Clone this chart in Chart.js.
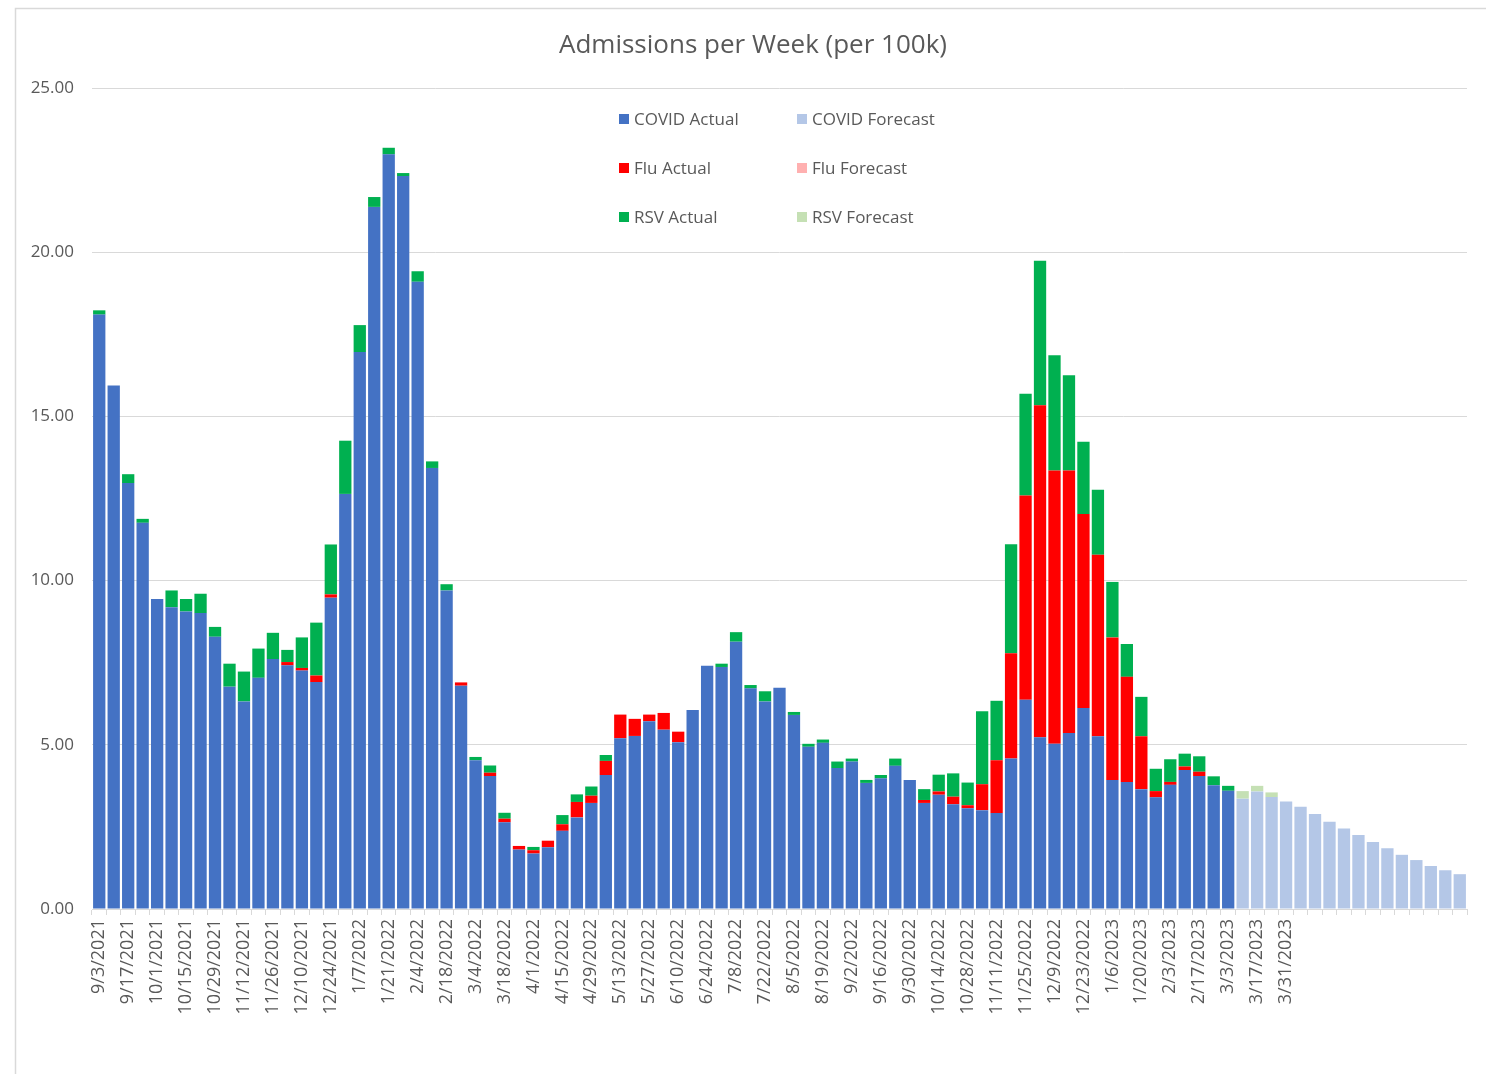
<!DOCTYPE html>
<html><head><meta charset="utf-8">
<script src="https://cdn.jsdelivr.net/npm/chart.js@4.4.0/dist/chart.umd.min.js"></script>
<style>html,body{margin:0;padding:0;background:#fff;} canvas{display:block;}</style>
</head><body>
<canvas id="c" width="1486" height="1074"></canvas>
<script>
const chartTitle = 'Admissions per Week (per 100k)';
const weeks = [
 '9/3/2021','9/10/2021','9/17/2021','9/24/2021','10/1/2021','10/8/2021','10/15/2021','10/22/2021','10/29/2021','11/5/2021',
 '11/12/2021','11/19/2021','11/26/2021','12/3/2021','12/10/2021','12/17/2021','12/24/2021','12/31/2021','1/7/2022','1/14/2022',
 '1/21/2022','1/28/2022','2/4/2022','2/11/2022','2/18/2022','2/25/2022','3/4/2022','3/11/2022','3/18/2022','3/25/2022',
 '4/1/2022','4/8/2022','4/15/2022','4/22/2022','4/29/2022','5/6/2022','5/13/2022','5/20/2022','5/27/2022','6/3/2022',
 '6/10/2022','6/17/2022','6/24/2022','7/1/2022','7/8/2022','7/15/2022','7/22/2022','7/29/2022','8/5/2022','8/12/2022',
 '8/19/2022','8/26/2022','9/2/2022','9/9/2022','9/16/2022','9/23/2022','9/30/2022','10/7/2022','10/14/2022','10/21/2022',
 '10/28/2022','11/4/2022','11/11/2022','11/18/2022','11/25/2022','12/2/2022','12/9/2022','12/16/2022','12/23/2022','12/30/2022',
 '1/6/2023','1/13/2023','1/20/2023','1/27/2023','2/3/2023','2/10/2023','2/17/2023','2/24/2023','3/3/2023','3/10/2023',
 '3/17/2023','3/24/2023','3/31/2023','','','','','','','',
 '','','','',''
];
const covidActual = [18.10,15.94,12.97,11.76,9.44,9.19,9.06,9.01,8.29,6.77,
 6.32,7.04,7.61,7.42,7.26,6.91,9.48,12.64,16.96,21.38,
 22.98,22.32,19.10,13.43,9.70,6.80,4.53,4.05,2.64,1.81,
 1.69,1.88,2.38,2.79,3.23,4.08,5.20,5.27,5.72,5.46,
 5.08,6.06,7.41,7.37,8.14,6.72,6.32,6.74,5.91,4.94,
 5.06,4.29,4.49,3.84,3.98,4.36,3.93,3.23,3.48,3.19,
 3.07,3.01,2.92,4.58,6.37,5.23,5.03,5.36,6.12,5.26,
 3.93,3.87,3.65,3.40,3.78,4.23,4.05,3.77,3.60];
const fluActual = [0,0,0,0,0,0,0,0,0,0,
 0,0,0,0.10,0.08,0.20,0.10,0,0,0,
 0,0,0,0,0,0.10,0,0.10,0.11,0.11,
 0.10,0.20,0.20,0.47,0.22,0.43,0.72,0.52,0.20,0.51,
 0.32,0,0,0,0,0,0,0,0,0,
 0,0,0,0,0,0,0,0.09,0.10,0.23,
 0.09,0.79,1.61,3.21,6.22,10.11,8.32,7.99,5.91,5.53,
 4.34,3.20,1.61,0.19,0.09,0.11,0.13,0,0];
const rsvActual = [0.13,0,0.27,0.12,0,0.51,0.38,0.59,0.30,0.70,
 0.91,0.89,0.80,0.37,0.93,1.61,1.52,1.62,0.82,0.30,
 0.20,0.09,0.32,0.20,0.19,0,0.10,0.22,0.18,0,
 0.10,0,0.28,0.23,0.28,0.18,0,0,0,0,
 0,0,0,0.10,0.29,0.10,0.31,0,0.09,0.09,
 0.10,0.20,0.09,0.09,0.10,0.22,0,0.33,0.51,0.71,
 0.69,2.22,1.81,3.32,3.10,4.40,3.51,2.90,2.20,1.98,
 1.69,1.00,1.20,0.68,0.69,0.39,0.47,0.27,0.15];
const covidForecast = [3.36,3.58,3.41,3.27,3.11,2.89,2.66,2.45,2.25,2.04,1.85,1.65,1.49,1.31,1.18,1.06];
const fluForecast = [0,0,0,0,0,0,0,0,0,0,0,0,0,0,0,0];
const rsvForecast = [0.23,0.17,0.14,0,0,0,0,0,0,0,0,0,0,0,0,0];
const yMin = 0, yMax = 25, yStep = 5;

const nA = covidActual.length, nF = covidForecast.length;
const padEnd = a => a.concat(Array(nF).fill(null));
const padStart = a => Array(nA).fill(null).concat(a);

const TXT = '#595959';
const FONT = "'Open Sans', 'Liberation Sans', sans-serif";

const mk = (label, data, color) => ({label, data, backgroundColor: color, borderWidth: 0,
  stack: 's', categoryPercentage: 1.0, barPercentage: 0.85});

const datasets = [
  mk('COVID Actual', padEnd(covidActual), '#4472C4'),
  mk('Flu Actual', padEnd(fluActual), '#FF0000'),
  mk('RSV Actual', padEnd(rsvActual), '#00B050'),
  mk('COVID Forecast', padStart(covidForecast), '#B4C7E7'),
  mk('Flu Forecast', padStart(fluForecast), '#FFB0B0'),
  mk('RSV Forecast', padStart(rsvForecast), '#C5E0B4')
];

const frame = {
  id: 'frame',
  beforeDraw(chart) {
    const ctx = chart.ctx;
    ctx.save();
    ctx.fillStyle = '#fff';
    ctx.fillRect(0, 0, chart.width, chart.height);
    ctx.strokeStyle = '#d9d9d9';
    ctx.lineWidth = 1.5;
    ctx.beginPath();
    ctx.moveTo(15.5, chart.height);
    ctx.lineTo(15.5, 8.5);
    ctx.lineTo(chart.width, 8.5);
    ctx.stroke();
    ctx.restore();
  },
  afterDraw(chart) {
    const ctx = chart.ctx;
    ctx.save();
    ctx.fillStyle = TXT;
    ctx.font = "26px " + FONT;
    ctx.textAlign = 'center';
    ctx.textBaseline = 'alphabetic';
    ctx.fillText(chartTitle, 753, 53);
    // legend: two columns, three rows
    const order = [[0, 3], [1, 4], [2, 5]];
    const colX = [619, 797];
    const rowY = [125, 174, 223];
    ctx.font = "17px " + FONT;
    ctx.textAlign = 'left';
    order.forEach((row, r) => {
      row.forEach((di, c) => {
        const ds = chart.data.datasets[di];
        ctx.fillStyle = ds.backgroundColor;
        ctx.fillRect(colX[c], rowY[r] - 11, 10, 10);
        ctx.fillStyle = TXT;
        ctx.fillText(ds.label, colX[c] + 15, rowY[r]);
      });
    });
    ctx.restore();
  }
};

new Chart(document.getElementById('c'), {
  type: 'bar',
  data: { labels: weeks, datasets },
  plugins: [frame],
  options: {
    responsive: false,
    animation: false,
    devicePixelRatio: 1,
    layout: { padding: { left: 0, top: 88, right: 19, bottom: 0 } },
    plugins: { legend: { display: false }, title: { display: false }, tooltip: { enabled: false } },
    scales: {
      x: {
        stacked: true,
        grid: { display: true, drawOnChartArea: false, drawTicks: true, tickLength: 6, color: '#d9d9d9', offset: true },
        border: { display: true, color: '#d9d9d9' },
        ticks: {
          autoSkip: false, minRotation: 90, maxRotation: 90, padding: 4,
          color: TXT, font: { family: FONT, size: 18 },
          callback: function (v, i) { return i % 2 === 0 ? this.getLabelForValue(v) : ''; }
        },
        afterFit(s) { s.height = 165; }
      },
      y: {
        stacked: true, min: yMin, max: yMax,
        grid: { color: '#d9d9d9', drawTicks: false },
        border: { display: false },
        ticks: { stepSize: yStep, padding: 18, color: TXT, font: { family: FONT, size: 17 },
          callback: v => Number(v).toFixed(2) },
        afterFit(s) { s.width = 92; }
      }
    }
  }
});
</script>
</body></html>
